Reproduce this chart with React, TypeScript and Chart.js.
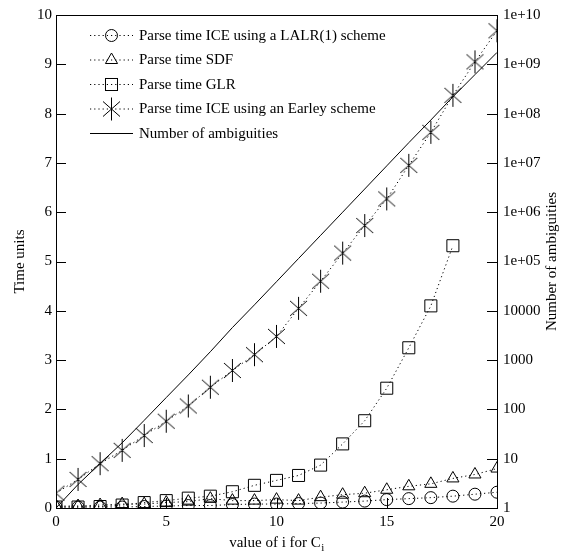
import React, { useEffect, useRef } from "react";
import { Chart, registerables } from "chart.js";

Chart.register(...registerables);

// ---------- data ----------
const iValues = [0, 1, 2, 3, 4, 5, 6, 7, 8, 9, 10, 11, 12, 13, 14, 15, 16, 17, 18, 19, 20];
const lalrTimes = [0.02, 0.02, 0.02, 0.02, 0.03, 0.04, 0.05, 0.05, 0.07, 0.08, 0.08, 0.09, 0.1, 0.12, 0.14, 0.17, 0.19, 0.21, 0.24, 0.28, 0.32];
const sdfTimes = [0.04, 0.04, 0.06, 0.08, 0.08, 0.11, 0.13, 0.19, 0.15, 0.15, 0.17, 0.15, 0.22, 0.27, 0.3, 0.37, 0.44, 0.49, 0.6, 0.68, 0.8];
const glrTimes = [0.02, 0.02, 0.03, 0.06, 0.11, 0.15, 0.2, 0.24, 0.33, 0.46, 0.56, 0.66, 0.87, 1.3, 1.77, 2.43, 3.25, 4.1, 5.32];
const earleyTimes = [0.3, 0.58, 0.9, 1.17, 1.47, 1.76, 2.07, 2.45, 2.79, 3.11, 3.48, 4.05, 4.6, 5.17, 5.73, 6.27, 6.95, 7.62, 8.37, 9.05, 9.68];
const ambiguities = [1, 3, 8, 21, 60, 174, 500, 1480, 4570, 13200, 38900, 115000, 339000, 1000000, 2950000, 8710000, 25700000, 74100000, 219000000, 617000000, 1740000000];

const xTickValues = [0, 5, 10, 15, 20];
const leftTickValues = [0, 1, 2, 3, 4, 5, 6, 7, 8, 9, 10];
const rightTickValues = [1, 10, 100, 1000, 10000, 1e5, 1e6, 1e7, 1e8, 1e9, 1e10];
const rightTickLabels = ["1", "10", "100", "1000", "10000", "1e+05", "1e+06", "1e+07", "1e+08", "1e+09", "1e+10"];

const seriesLabels = [
  "Parse time ICE using a LALR(1) scheme",
  "Parse time SDF",
  "Parse time GLR",
  "Parse time ICE using an Earley scheme",
  "Number of ambiguities",
];
const xTitle = "value of i for C";
const xTitleSub = "i";
const yTitle = "Time units";
const y2Title = "Number of ambiguities";

// ---------- styling ----------
const FONT = "Liberation Serif";
const FS = 15;
const DOT = [1.2, 3];
const R_CIRCLE = 6;
const R_TRI = 7;
const R_RECT = 8.5;

function drawEarley(g: CanvasRenderingContext2D, x: number, y: number) {
  g.beginPath();
  g.moveTo(x - 8.5, y - 7.5);
  g.lineTo(x + 8.5, y + 7.5);
  g.moveTo(x - 8.5, y + 7.5);
  g.lineTo(x + 8.5, y - 7.5);
  g.moveTo(x, y - 11.5);
  g.lineTo(x, y + 11.5);
  g.stroke();
}

function makeEarleyMarker() {
  const c = document.createElement("canvas");
  c.width = 25;
  c.height = 25;
  const g = c.getContext("2d")!;
  g.strokeStyle = "#000";
  g.lineWidth = 1;
  drawEarley(g, 12.5, 12.5);
  return c;
}

function drawMarker(g: CanvasRenderingContext2D, kind: string, x: number, y: number) {
  g.save();
  g.setLineDash([]);
  g.strokeStyle = "#000";
  g.lineWidth = 1;
  if (kind === "circle") {
    g.beginPath();
    g.arc(x, y, R_CIRCLE, 0, Math.PI * 2);
    g.stroke();
  } else if (kind === "triangle") {
    const r = R_TRI;
    g.beginPath();
    g.moveTo(x, y - r);
    g.lineTo(x + r * Math.sin((2 * Math.PI) / 3), y + r / 2);
    g.lineTo(x - r * Math.sin((2 * Math.PI) / 3), y + r / 2);
    g.closePath();
    g.stroke();
  } else if (kind === "rect") {
    const s = R_RECT * Math.SQRT1_2;
    g.strokeRect(x - s, y - s, 2 * s, 2 * s);
  } else if (kind === "earley") {
    drawEarley(g, x, y);
  }
  g.restore();
}

const legendKinds = ["circle", "triangle", "rect", "earley", "none"];
const legendRowsY = [35.5, 60, 84.5, 109, 133.5];

const decorPlugin = {
  id: "gnuplotDecor",
  afterDraw(chart: any) {
    const g: CanvasRenderingContext2D = chart.ctx;
    const a = chart.chartArea;
    const sx = chart.scales.x;
    const sy = chart.scales.y;
    const sy2 = chart.scales.y2;
    g.save();
    g.strokeStyle = "#000";
    g.lineWidth = 1;
    g.setLineDash([]);
    // frame
    g.strokeRect(Math.round(a.left) + 0.5, Math.round(a.top) + 0.5, Math.round(a.right - a.left), Math.round(a.bottom - a.top));
    // inward ticks
    g.beginPath();
    for (const v of leftTickValues) {
      const y = Math.round(sy.getPixelForValue(v)) + 0.5;
      g.moveTo(a.left, y);
      g.lineTo(a.left + 10, y);
    }
    for (const v of rightTickValues) {
      const y = Math.round(sy2.getPixelForValue(v)) + 0.5;
      g.moveTo(a.right, y);
      g.lineTo(a.right - 10, y);
    }
    for (const v of xTickValues) {
      const x = Math.round(sx.getPixelForValue(v)) + 0.5;
      g.moveTo(x, a.bottom);
      g.lineTo(x, a.bottom - 10);
    }
    g.stroke();

    // axis titles
    g.fillStyle = "#000";
    g.font = `${FS}px "${FONT}"`;
    g.textBaseline = "middle";
    g.textAlign = "center";
    const cy = (a.top + a.bottom) / 2;
    g.save();
    g.translate(20, cy);
    g.rotate(-Math.PI / 2);
    g.fillText(yTitle, 0, 0);
    g.restore();
    g.save();
    g.translate(552, cy);
    g.rotate(-Math.PI / 2);
    g.fillText(y2Title, 0, 0);
    g.restore();

    // x title with subscript
    const wMain = g.measureText(xTitle).width;
    g.font = `${Math.round(FS * 0.75)}px "${FONT}"`;
    const wSub = g.measureText(xTitleSub).width;
    const cx = (a.left + a.right) / 2;
    const x0 = cx - (wMain + wSub) / 2;
    g.textAlign = "left";
    g.textBaseline = "alphabetic";
    g.font = `${FS}px "${FONT}"`;
    g.fillText(xTitle, x0, 547);
    g.font = `${Math.round(FS * 0.75)}px "${FONT}"`;
    g.fillText(xTitleSub, x0 + wMain + 0.5, 551);

    // legend
    g.font = `${FS}px "${FONT}"`;
    g.textBaseline = "middle";
    g.textAlign = "left";
    seriesLabels.forEach((lab, k) => {
      const y = legendRowsY[k];
      g.save();
      g.beginPath();
      g.setLineDash(legendKinds[k] === "none" ? [] : DOT);
      g.moveTo(90, y);
      g.lineTo(133, y);
      g.stroke();
      g.restore();
      if (legendKinds[k] !== "none") drawMarker(g, legendKinds[k], 111.5, y);
      g.fillText(lab, 139, y + 0.5);
    });
    g.restore();
  },
};

export default function App() {
  const ref = useRef<HTMLCanvasElement | null>(null);

  useEffect(() => {
    if (!ref.current) return;
    const earleyImg = makeEarleyMarker();
    const pts = (ys: number[]) => ys.map((y, k) => ({ x: iValues[k], y }));
    const common = {
      borderColor: "#000",
      borderWidth: 1,
      pointBorderColor: "#000",
      pointBackgroundColor: "rgba(0,0,0,0)",
      pointBorderWidth: 1,
      fill: false,
      tension: 0,
      borderDash: DOT,
    };
    const tickFont = { family: FONT, size: FS };
    const chart = new Chart(ref.current, {
      type: "line",
      data: {
        datasets: [
          { ...common, label: seriesLabels[0], data: pts(lalrTimes), yAxisID: "y", pointStyle: "circle", pointRadius: R_CIRCLE },
          { ...common, label: seriesLabels[1], data: pts(sdfTimes), yAxisID: "y", pointStyle: "triangle", pointRadius: R_TRI },
          { ...common, label: seriesLabels[2], data: pts(glrTimes), yAxisID: "y", pointStyle: "rect", pointRadius: R_RECT },
          { ...common, label: seriesLabels[3], data: pts(earleyTimes), yAxisID: "y", pointStyle: earleyImg as any, pointRadius: 12 },
          { ...common, label: seriesLabels[4], data: pts(ambiguities), yAxisID: "y2", borderDash: [], pointRadius: 0 },
        ],
      },
      options: {
        animation: false,
        responsive: false,
        devicePixelRatio: 1,
        layout: { padding: { top: 13, left: 0, right: 0, bottom: 0 } },
        plugins: { legend: { display: false }, tooltip: { enabled: false } },
        scales: {
          x: {
            type: "linear",
            position: "bottom",
            min: 0,
            max: 20,
            afterBuildTicks: (s: any) => {
              s.ticks = xTickValues.map((v) => ({ value: v }));
            },
            ticks: { font: tickFont, color: "#000", padding: 5, maxRotation: 0, autoSkip: false },
            grid: { display: false, drawTicks: false },
            border: { display: false },
            afterFit: (s: any) => {
              s.height = 48;
            },
          },
          y: {
            type: "linear",
            position: "left",
            min: 0,
            max: 10,
            afterBuildTicks: (s: any) => {
              s.ticks = leftTickValues.map((v) => ({ value: v }));
            },
            ticks: { font: tickFont, color: "#000", padding: 4, autoSkip: false },
            grid: { display: false, drawTicks: false },
            border: { display: false },
            afterFit: (s: any) => {
              s.width = 56;
            },
          },
          y2: {
            type: "logarithmic",
            position: "right",
            min: 1,
            max: 1e10,
            afterBuildTicks: (s: any) => {
              s.ticks = rightTickValues.map((v) => ({ value: v }));
            },
            ticks: {
              font: tickFont,
              color: "#000",
              padding: 6,
              autoSkip: false,
              callback: (v: any) => {
                const idx = rightTickValues.findIndex((t) => Math.abs(Math.log10(t) - Math.log10(Number(v))) < 1e-6);
                return idx >= 0 ? rightTickLabels[idx] : "";
              },
            },
            grid: { display: false, drawTicks: false },
            border: { display: false },
            afterFit: (s: any) => {
              s.width = 68;
            },
          },
        },
      } as any,
      plugins: [decorPlugin],
    });
    return () => chart.destroy();
  }, []);

  return (
    <div style={{ position: "absolute", left: 0, top: 0, width: 565, height: 556, background: "#fff" }}>
      <canvas ref={ref} width={565} height={556} style={{ display: "block" }} />
    </div>
  );
}
